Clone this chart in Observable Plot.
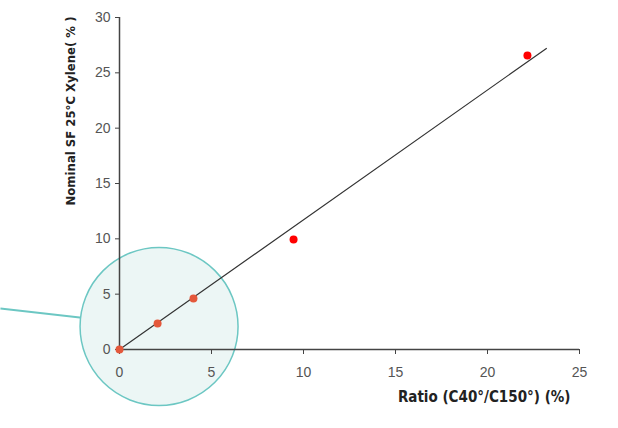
<!DOCTYPE html>
<html><head><meta charset="utf-8">
<script src="https://cdn.jsdelivr.net/npm/d3@7"></script>
<script src="https://cdn.jsdelivr.net/npm/@observablehq/plot@0.6"></script>
<style>body{margin:0;background:#fff} svg{display:block}</style>
</head><body><div id="chart"></div>
<script>
// Measured points
const ratio = [0, 2.07, 4.02, 9.46, 22.17];
const sf    = [0, 2.35, 4.6, 9.94, 26.56];
// Fitted line end points
const fitX = [0, 23.2];
const fitY = [0, 27.2];
// Tick values
const xTicks = [0, 5, 10, 15, 20, 25];
const yTicks = [0, 5, 10, 15, 20, 25, 30];
// Titles
const xTitle = "Ratio (C40°/C150°) (%)";
const yTitle = "Nominal SF 25°C Xylene( % )";
// Magnifier callout: center and outside end of its pointer (data units)
const lensCenter = [2.15, 2.08];
const lensPointer = [-6.47, 3.7];

const points = ratio.map((x, i) => ({x, y: sf[i]}));
const fit = fitX.map((x, i) => ({x, y: fitY[i]}));
const lens = [{x: lensCenter[0], y: lensCenter[1], x2: lensPointer[0], y2: lensPointer[1]}];

const titleFont = "'DejaVu Sans Condensed', 'Liberation Sans Narrow', sans-serif";

const chart = Plot.plot({
  width: 618, height: 428,
  marginLeft: 119, marginTop: 17, marginRight: 39, marginBottom: 79,
  x: {domain: [0, 25]},
  y: {domain: [0, 30]},
  style: {fontFamily: "'Liberation Sans', Arial, sans-serif", fontSize: "14px", background: "#fff"},
  marks: [
    Plot.link(lens, {x1: "x", y1: "y", x2: "x2", y2: "y2", stroke: "#6cc7c3", strokeWidth: 2}),
    Plot.dot(lens, {x: "x", y: "y", r: 79, fill: "#ecf6f5", stroke: "#6cc7c3", strokeWidth: 1.5}),
    Plot.ruleY([0], {stroke: "#444", strokeWidth: 1.5}),
    Plot.ruleX([0], {stroke: "#444", strokeWidth: 1.5}),
    Plot.axisX({ticks: xTicks, tickSize: 5, tickPadding: 13, stroke: "#444", fill: "#555", label: null, fontSize: 14}),
    Plot.axisY({ticks: yTicks, tickSize: 4, tickPadding: 5, stroke: "#444", fill: "#555", label: null, fontSize: 14}),
    Plot.line(fit, {x: "x", y: "y", stroke: "#333", strokeWidth: 1.2}),
    Plot.dot(points, {x: "x", y: "y", r: 4, fill: d => d.x < 6 ? "#e4583b" : "#ff0000", stroke: "none"}),
    Plot.text([xTitle], {frameAnchor: "bottom-right", textAnchor: "end", lineAnchor: "middle", dx: -9, dy: 48, fontWeight: "bold", fontSize: 15, fontFamily: titleFont, fill: "#222"}),
    Plot.text([yTitle], {frameAnchor: "top-left", rotate: -90, textAnchor: "end", lineAnchor: "middle", dx: -49, dy: -1, fontWeight: "bold", fontSize: 13, fontFamily: titleFont, fill: "#222"})
  ]
});
document.getElementById("chart").appendChild(chart);
</script>
</body></html>
